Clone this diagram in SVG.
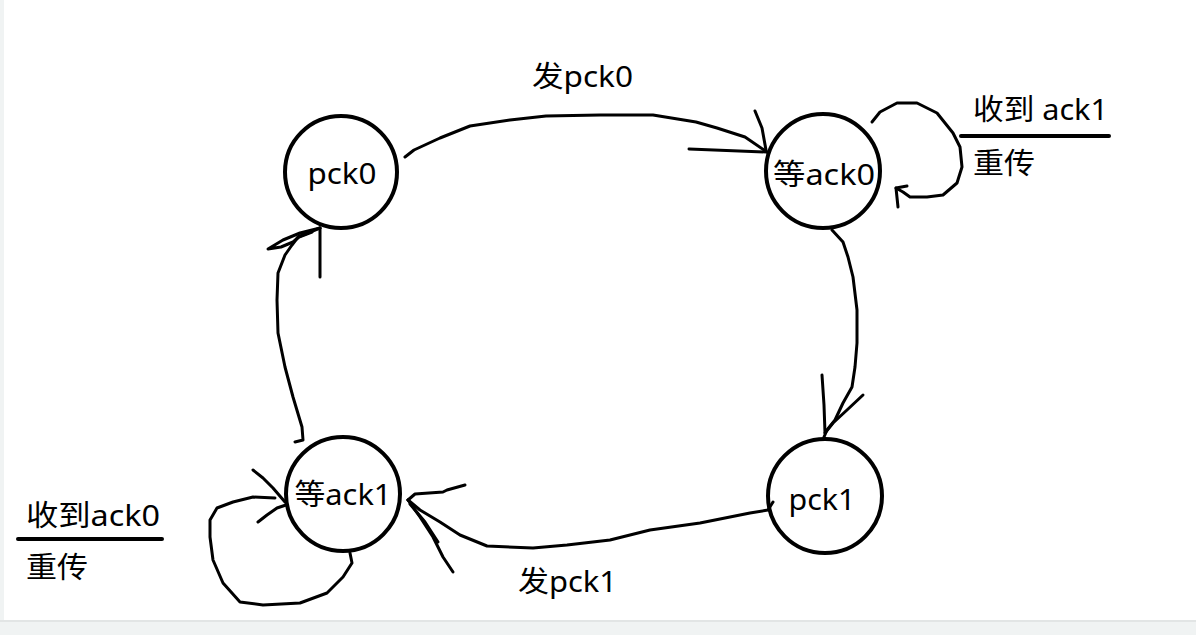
<svg xmlns="http://www.w3.org/2000/svg" width="1196" height="635" viewBox="0 0 1196 635">
<style>
.bg{fill:#f0f3f3}
.node circle{fill:none;stroke:#000;stroke-width:4}
text{font-family:"Noto Sans","Noto Sans CJK SC",sans-serif;font-size:29px;fill:#000}
.node text{text-anchor:middle}
.c path{fill:none;stroke:#000;stroke-width:3;stroke-linecap:round;stroke-linejoin:round}
.bar{stroke:#000;stroke-width:4;stroke-linecap:round}
</style>
<rect x="0" y="0" width="1196" height="635" class="bg"/>
<rect x="4" y="0" width="1192" height="620" fill="#ffffff"/>
<line x1="0" y1="621" x2="1196" y2="621" stroke="#e2e5e5" stroke-width="2"/>

<g id="node-pck0" class="node">
<circle cx="341" cy="172" r="56"/>
<text x="342" y="184" textLength="69" lengthAdjust="spacingAndGlyphs">pck0</text>
</g>
<g id="node-wait-ack0" class="node">
<circle cx="823" cy="171" r="57"/>
<text x="824" y="185" textLength="102" lengthAdjust="spacingAndGlyphs">等ack0</text>
</g>
<g id="node-pck1" class="node">
<circle cx="825" cy="496" r="57"/>
<text x="822" y="510" textLength="67" lengthAdjust="spacingAndGlyphs">pck1</text>
</g>
<g id="node-wait-ack1" class="node">
<circle cx="343" cy="494" r="57"/>
<text x="343" y="505" textLength="97" lengthAdjust="spacingAndGlyphs">等ack1</text>
</g>

<g id="connectors" class="c">
<!-- pck0 -> wait ack0 -->
<path d="M405,157 L414,150 L440,138 L470,126 L510,120 L546,116 L600,115 L653,115 L696,122 L717,128 L745,137 L767,152"/>
<path d="M689,149 L767,152"/>
<path d="M755,111 L762,128 L766,150"/>
<!-- wait ack0 self loop -->
<path d="M872,122 L880,112 L897,103 L917,103 L937,113 L953,133 L960,147 L962,167 L957,183 L943,195 L927,197 L910,197 L903,192 L896,188"/>
<path d="M907,186 L896,188 L898,207"/>
<!-- wait ack0 -> pck1 -->
<path d="M832,230 L843,242 L848,257 L853,277 L857,310 L857,343 L855,367 L852,387 L843,403 L835,420 L827,430 L824,437"/>
<path d="M822,375 L824,405 L825,433"/>
<path d="M863,395 L847,410 L833,423 L825,433"/>
<!-- pck1 -> wait ack1 -->
<path d="M773,502 L768,510 L750,513 L700,523 L650,530 L610,540 L567,545 L533,548 L487,546 L460,535 L440,522 L420,510 L408,500"/>
<path d="M465,485 L447,490 L443,492 L415,494 L408,500"/>
<path d="M408,500 L420,517 L433,537 L443,557 L453,572"/>
<path d="M410,504 L425,522 L438,542"/>
<!-- wait ack1 self loop -->
<path d="M350,553 L352,563 L343,577 L327,593 L300,603 L263,605 L240,602 L223,583 L213,560 L210,537 L210,520 L217,508 L233,502 L253,497 L275,498"/>
<path d="M253,470 L263,478 L273,488 L285,502"/>
<path d="M258,522 L267,515 L277,508 L286,505"/>
<!-- wait ack1 -> pck0 -->
<path d="M295,442 L303,440 L302,427 L293,397 L285,367 L278,333 L277,300 L278,273 L285,255 L292,245 L298,237 L320,228"/>
<path d="M320,277 L320,228"/>
<path d="M320,228 L300,233 L283,240 L268,249 L281,247 L293,242 L299,237 L312,232"/>
</g>

<g id="label-send-pck0"><text x="532" y="87" textLength="101" lengthAdjust="spacingAndGlyphs">发pck0</text></g>
<g id="label-send-pck1"><text x="518" y="592" textLength="99" lengthAdjust="spacingAndGlyphs">发pck1</text></g>
<g id="label-ack1">
<text x="973" y="120" textLength="135" lengthAdjust="spacingAndGlyphs">收到 ack1</text>
<line class="bar" x1="961" y1="136" x2="1109" y2="136"/>
<text x="973" y="174" textLength="62" lengthAdjust="spacingAndGlyphs">重传</text>
</g>
<g id="label-ack0">
<text x="26" y="526" textLength="134" lengthAdjust="spacingAndGlyphs">收到ack0</text>
<line class="bar" x1="18" y1="539" x2="162" y2="539"/>
<text x="26" y="578" textLength="62" lengthAdjust="spacingAndGlyphs">重传</text>
</g>
</svg>
